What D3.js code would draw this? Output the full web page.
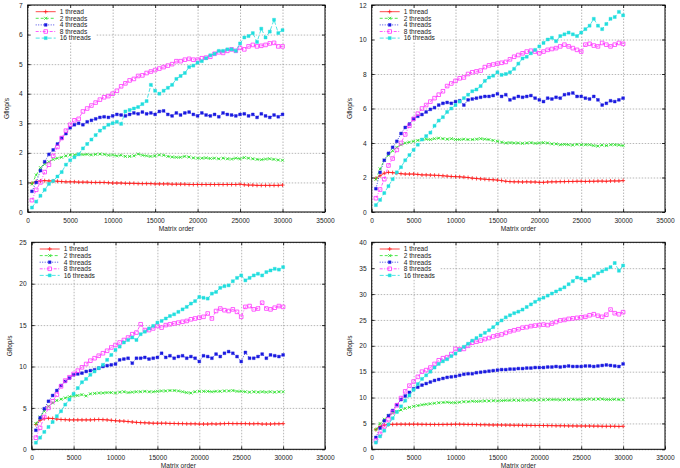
<!DOCTYPE html>
<html>
<head>
<meta charset="utf-8">
<script src="https://cdn.jsdelivr.net/npm/d3@7/dist/d3.min.js"></script>
<style>
  body { margin: 0; background: #fff; }
  svg { display: block; font-family: "Liberation Sans", Arial, sans-serif; }
</style>
</head>
<body>
<div id="chart"></div>
<script>
var W = 680;
var H = 468;

// matrix sizes (x values, shared by every series)
var matrixOrder = [500,1000,1500,2000,2500,3000,3500,4000,4500,5000,
  5500,6000,6500,7000,7500,8000,8500,9000,9500,10000,
  10500,11000,11500,12000,12500,13000,13500,14000,14500,15000,
  15500,16000,16500,17000,17500,18000,18500,19000,19500,20000,
  20500,21000,21500,22000,22500,23000,23500,24000,24500,25000,
  25500,26000,26500,27000,27500,28000,28500,29000,29500,30000];

var xTicks = [0,5000,10000,15000,20000,25000,30000,35000];
var seriesNames = ["1 thread","2 threads","4 threads","8 threads","16 threads"];

var p1Ticks = [0,1,2,3,4,5,6,7];
var p2Ticks = [0,2,4,6,8,10,12];
var p3Ticks = [0,5,10,15,20,25];
var p4Ticks = [0,5,10,15,20,25,30,35,40];

// panel 1 (top left)
var p1_t1 = [0.97,1.03,1.05,1.06,1.05,1.05,1.04,1.03,1.02,1.02, 1.02,1.01,1.01,1.01,1.00,1.00,1.00,1.00,0.99,0.98, 0.98,0.98,0.97,0.97,0.97,0.96,0.96,0.96,0.96,0.95, 0.95,0.95,0.95,0.94,0.94,0.94,0.94,0.93,0.93,0.93, 0.93,0.93,0.93,0.93,0.93,0.93,0.93,0.93,0.93,0.94, 0.92,0.91,0.91,0.90,0.90,0.90,0.90,0.90,0.90,0.91];
var p1_t2 = [0.95,1.25,1.5,1.62,1.7,1.78,1.82,1.85,1.9,1.93, 1.93,1.96,1.94,1.95,1.93,1.95,1.96,1.95,1.92,1.93, 1.90,1.92,1.88,1.88,1.90,1.96,1.92,1.90,1.88,1.90, 1.93,1.92,1.88,1.86,1.85,1.85,1.88,1.86,1.83,1.82, 1.82,1.83,1.81,1.82,1.80,1.82,1.80,1.79,1.82,1.80, 1.84,1.82,1.80,1.78,1.77,1.79,1.80,1.78,1.76,1.75];
var p1_t4 = [0.7,1.0,1.4,1.7,1.95,2.1,2.3,2.5,2.65,2.85, 2.95,3.0,2.95,3.05,3.1,3.15,3.2,3.22,3.2,3.25, 3.3,3.28,3.25,3.3,3.35,3.32,3.38,3.32,3.35,3.3, 3.4,3.42,3.3,3.25,3.35,3.28,3.35,3.38,3.3,3.25, 3.35,3.28,3.25,3.3,3.22,3.35,3.3,3.28,3.25,3.3, 3.32,3.25,3.3,3.2,3.32,3.25,3.2,3.28,3.22,3.3];
var p1_t8 = [0.4,0.75,1.0,1.35,1.6,1.9,2.2,2.5,2.75,2.95, 3.1,3.15,3.4,3.5,3.6,3.7,3.8,3.88,3.92,4.0, 4.1,4.25,4.35,4.45,4.5,4.6,4.62,4.7,4.75,4.8, 4.85,4.9,4.95,5.0,5.1,5.1,5.15,5.18,5.15,5.15, 5.2,5.22,5.25,5.35,5.4,5.38,5.45,5.5,5.45,5.55, 5.5,5.6,5.65,5.6,5.62,5.65,5.7,5.72,5.6,5.6];
var p1_t16 = [0.15,0.35,0.55,0.75,0.95,1.05,1.2,1.35,1.6,1.75, 1.85,1.95,2.15,2.3,2.45,2.6,2.75,2.85,2.95,3.0, 3.05,2.98,3.4,3.45,3.5,3.55,3.65,3.75,4.3,4.1, 4.0,4.1,4.2,4.3,4.5,4.6,4.7,4.9,4.95,5.05, 5.1,5.2,5.3,5.35,5.45,5.45,5.5,5.5,5.45,5.7, 5.9,5.95,6.05,5.75,6.2,5.9,6.1,6.5,6.05,6.15];

// panel 2 (top right)
var p2_t1 = [1.95,2.1,2.25,2.3,2.28,2.25,2.22,2.2,2.2,2.2, 2.18,2.15,2.15,2.14,2.13,2.12,2.1,2.08,2.06,2.05, 2.04,2.02,2.0,1.96,1.94,1.92,1.9,1.88,1.87,1.85, 1.82,1.78,1.76,1.75,1.75,1.74,1.75,1.74,1.74,1.72, 1.72,1.74,1.75,1.75,1.76,1.76,1.77,1.77,1.78,1.78, 1.77,1.78,1.78,1.79,1.79,1.78,1.8,1.8,1.8,1.82];
var p2_t2 = [1.9,2.5,3.0,3.3,3.55,3.75,3.9,4.0,4.05,4.1, 4.15,4.2,4.22,4.2,4.25,4.28,4.25,4.22,4.25,4.2, 4.2,4.22,4.2,4.2,4.22,4.25,4.22,4.2,4.15,4.1, 4.05,4.0,4.02,4.0,4.0,3.98,4.0,4.02,3.98,4.0, 4.02,4.0,3.95,3.95,3.9,3.92,3.9,3.88,3.92,3.9, 3.9,3.9,3.85,3.82,3.88,3.85,3.9,3.9,3.88,3.85];
var p2_t4 = [1.35,2.3,3.0,3.4,3.75,4.1,4.55,4.9,5.1,5.4, 5.55,5.65,5.8,5.95,6.05,6.2,6.3,6.35,6.3,6.4, 6.45,6.2,6.5,6.55,6.6,6.65,6.7,6.7,6.75,6.85, 6.7,6.8,6.5,6.6,6.7,6.65,6.7,6.75,6.6,6.5, 6.4,6.6,6.55,6.65,6.6,6.8,6.85,6.9,6.7,6.7, 6.6,6.55,6.7,6.5,6.2,6.3,6.45,6.4,6.5,6.6];
var p2_t8 = [0.8,1.3,1.9,2.7,3.1,3.6,4.0,4.5,5.0,5.4, 5.7,6.0,6.2,6.4,6.6,6.8,7.0,7.3,7.45,7.6, 7.75,7.8,8.0,8.1,8.15,8.2,8.4,8.5,8.55,8.6, 8.65,8.7,8.85,9.0,9.1,9.2,9.3,9.35,9.3,9.2, 9.3,9.4,9.45,9.5,9.6,9.7,9.6,9.5,9.4,9.3, 9.7,9.75,9.65,9.6,9.8,9.7,9.6,9.7,9.8,9.75];
var p2_t16 = [0.4,0.7,1.1,1.5,1.9,2.3,2.6,3.0,3.3,3.6, 3.9,4.2,4.4,4.6,5.0,5.3,5.5,5.8,6.0,6.2, 6.4,6.6,6.8,7.0,7.1,7.3,7.6,7.8,7.9,8.1, 7.95,8.0,8.1,8.3,8.6,8.9,9.0,9.2,9.4,9.6, 9.8,10.0,10.1,9.9,10.2,10.3,10.4,10.3,10.2,10.4, 10.6,10.8,11.2,10.8,10.6,10.9,11.2,11.3,11.6,11.4];

// panel 3 (bottom left)
var p3_t1 = [3.0,3.5,3.7,3.75,3.72,3.65,3.6,3.58,3.55,3.55, 3.55,3.55,3.55,3.55,3.58,3.6,3.58,3.55,3.5,3.45, 3.42,3.4,3.35,3.3,3.25,3.22,3.2,3.18,3.15,3.15, 3.15,3.15,3.12,3.12,3.1,3.1,3.08,3.08,3.08,3.05, 3.05,3.05,3.08,3.05,3.08,3.1,3.12,3.1,3.1,3.1, 3.1,3.08,3.08,3.1,3.05,3.05,3.05,3.08,3.08,3.1];
var p3_t2 = [3.1,3.9,4.6,5.2,5.6,5.9,6.05,6.2,6.35,6.45, 6.5,6.6,6.45,6.7,6.75,6.8,6.8,6.85,6.85,6.8, 6.9,6.95,6.85,6.9,6.95,6.95,7.0,6.95,6.95,7.0, 7.05,7.05,7.1,7.1,7.05,6.95,6.85,6.8,6.95,7.0, 7.0,7.0,6.95,7.0,7.0,7.05,7.05,7.1,7.0,7.0, 6.95,6.9,6.95,6.9,6.95,6.9,6.95,6.9,6.95,6.95];
var p3_t4 = [2.3,3.8,4.9,5.8,6.5,7.1,7.7,8.2,8.6,9.0, 9.1,9.2,9.4,9.5,9.6,9.8,10.0,10.1,10.2,10.3, 10.8,10.9,11.0,10.4,11.0,11.0,11.1,10.9,11.0,11.1, 11.6,11.1,11.3,11.0,11.2,11.3,11.0,11.2,11.0,10.6, 11.3,11.2,11.0,11.5,11.2,11.6,11.8,11.6,11.2,10.6, 11.7,11.0,11.0,11.2,11.5,11.0,11.4,11.3,11.2,11.4];
var p3_t8 = [1.4,2.6,3.9,5.0,5.8,6.6,7.6,8.3,8.7,9.1, 9.5,9.9,10.3,10.7,11.0,11.3,11.6,11.9,12.3,12.6, 12.9,13.2,13.5,13.9,14.1,15.1,14.4,14.4,14.6,14.9, 14.7,15.0,15.1,15.2,15.3,15.4,15.5,15.7,15.8,15.9, 16.0,16.4,15.8,16.7,17.0,16.8,16.7,16.9,16.6,16.0, 17.2,17.3,16.9,17.0,17.7,17.0,16.9,17.1,17.3,17.2];
var p3_t16 = [0.8,1.4,2.1,2.7,3.3,4.0,4.6,5.4,6.0,6.7, 7.4,8.1,8.5,9.0,9.4,9.8,10.2,10.8,11.4,12.0, 12.4,12.9,13.2,13.5,13.2,13.9,14.2,14.6,14.9,15.3, 15.5,15.8,16.1,16.3,16.6,16.9,17.2,17.6,17.9,18.4, 18.3,18.2,18.8,19.0,19.5,19.7,19.8,20.3,20.7,21.0, 20.4,20.7,21.0,21.2,21.0,21.4,21.6,21.8,21.7,22.0];

// panel 4 (bottom right)
var p4_t1 = [3.8,4.4,4.7,4.8,4.82,4.85,4.85,4.85,4.85,4.85, 4.85,4.82,4.82,4.8,4.8,4.8,4.8,4.82,4.82,4.85, 4.85,4.82,4.8,4.8,4.78,4.75,4.75,4.72,4.7,4.7, 4.7,4.68,4.68,4.65,4.65,4.65,4.62,4.62,4.6,4.6, 4.6,4.58,4.58,4.55,4.55,4.55,4.52,4.52,4.5,4.5, 4.5,4.5,4.48,4.48,4.45,4.45,4.45,4.45,4.42,4.45];
var p4_t2 = [3.8,5.0,5.8,6.5,7.0,7.3,7.6,7.9,8.1,8.3, 8.45,8.6,8.7,8.8,8.9,9.0,9.05,9.1,9.0,9.0, 9.1,9.2,9.2,9.3,9.25,9.3,9.35,9.35,9.4,9.35, 9.4,9.45,9.45,9.5,9.45,9.5,9.5,9.55,9.5,9.55, 9.55,9.6,9.6,9.6,9.55,9.6,9.6,9.65,9.6,9.6, 9.65,9.7,9.65,9.7,9.7,9.6,9.6,9.65,9.6,9.6];
var p4_t4 = [2.3,4.1,5.5,6.5,7.5,8.6,9.6,10.3,11.0,11.7, 12.0,12.4,12.7,13.0,13.3,13.5,13.7,13.9,14.0,14.1, 14.3,14.5,14.6,14.6,14.8,14.9,15.0,15.1,15.2,15.3, 15.4,15.4,15.5,15.5,15.6,15.6,15.7,15.7,15.8,15.8, 15.8,15.9,15.9,16.0,15.9,16.0,16.1,16.0,16.0,16.0, 16.1,16.1,16.0,16.1,16.2,16.3,16.2,16.1,16.0,16.5];
var p4_t8 = [1.7,3.0,4.4,5.8,7.2,8.5,9.9,11.2,12.3,13.1, 14.0,15.0,15.3,15.8,16.5,17.2,17.6,17.8,18.4,19.4, 19.3,19.4,20.0,20.6,20.8,21.0,21.3,21.5,21.8,22.0, 22.2,22.5,22.8,23.0,23.2,23.5,23.6,23.8,23.9,24.0, 24.1,24.0,24.3,24.6,24.9,25.0,25.2,25.3,25.4,25.5, 25.6,25.9,26.1,25.8,25.6,26.0,27.0,26.3,26.1,26.5];
var p4_t16 = [1.3,2.5,3.6,4.8,6.0,7.2,8.3,9.4,10.4,11.5, 12.6,13.6,14.3,15.0,15.8,16.5,17.0,17.4,18.0,18.5, 19.2,19.8,20.4,21.0,21.5,22.0,22.5,23.0,23.6,24.3, 24.9,25.5,25.9,26.3,26.6,27.0,27.5,28.0,28.5,29.0, 29.3,29.7,30.1,30.5,30.9,31.3,31.9,32.5,33.2,33.0, 32.6,33.0,33.5,34.0,34.4,34.8,35.2,36.0,34.5,35.5];

// panel frames (plot area in page pixels)
var panels = [
  {left: 27.7, right: 325, top: 5, bottom: 212, ymax: 7, ticks: p1Ticks, ylabX: 7,
   data: [p1_t1, p1_t2, p1_t4, p1_t8, p1_t16]},
  {left: 371.7, right: 665, top: 5, bottom: 212, ymax: 12, ticks: p2Ticks, ylabX: 350,
   data: [p2_t1, p2_t2, p2_t4, p2_t8, p2_t16]},
  {left: 31.7, right: 325, top: 242.3, bottom: 449.3, ymax: 25, ticks: p3Ticks, ylabX: 10,
   data: [p3_t1, p3_t2, p3_t4, p3_t8, p3_t16]},
  {left: 371.7, right: 665, top: 242.3, bottom: 449.3, ymax: 40, ticks: p4Ticks, ylabX: 350,
   data: [p4_t1, p4_t2, p4_t4, p4_t8, p4_t16]}
];

// gnuplot-like line types
var styles = [
  {color: "#ff1a1a", dash: null,      mark: "M-2,0H2M0,-2V2",                   fill: false},
  {color: "#22e022", dash: "3,2",     mark: "M-1.5,-1.5L1.5,1.5M-1.5,1.5L1.5,-1.5", fill: false},
  {color: "#1a1ae0", dash: "1,1.5",   mark: "M-1.4,-1.4h2.8v2.8h-2.8z",         fill: true},
  {color: "#ff33ff", dash: "3,1.5,1,1.5", mark: "M-1.8,-1.8h3.6v3.6h-3.6z",     fill: false},
  {color: "#22dede", dash: "4,2",     mark: "M-1.5,-1.5h3v3h-3z",               fill: true}
];

var fontSize = 6.6;
var fmt = d3.format("d");

var svg = d3.select("#chart").append("svg")
  .attr("width", W)
  .attr("height", H);

panels.forEach(function(p) {
  var g = svg.append("g");

  var xScale = d3.scaleLinear().domain([0, 35000]).range([p.left, p.right]);
  var yScale = d3.scaleLinear().domain([0, p.ymax]).range([p.bottom, p.top]);

  // grid
  var gridX = g.append("g")
    .attr("transform", "translate(0," + p.bottom + ")")
    .call(d3.axisBottom(xScale).tickValues(xTicks).tickSize(-(p.bottom - p.top)).tickFormat(""));
  var gridY = g.append("g")
    .attr("transform", "translate(" + p.left + ",0)")
    .call(d3.axisLeft(yScale).tickValues(p.ticks).tickSize(-(p.right - p.left)).tickFormat(""));
  [gridX, gridY].forEach(function(gr) {
    gr.select(".domain").remove();
    gr.selectAll("line")
      .attr("stroke", "#9a9a9a")
      .attr("stroke-width", 0.7)
      .attr("stroke-dasharray", "1.5,1.5");
  });

  // legend box (opaque, hides the grid behind it)
  var legend = g.append("g");
  var legendBg = legend.append("rect").attr("fill", "#fff");

  // series
  var line = d3.line()
    .x(function(d, i) { return xScale(matrixOrder[i]); })
    .y(function(d) { return yScale(d); });

  p.data.forEach(function(values, si) {
    var st = styles[si];
    var sg = g.append("g");
    sg.append("path")
      .attr("d", line(values))
      .attr("fill", "none")
      .attr("stroke", st.color)
      .attr("stroke-width", 0.8)
      .attr("stroke-dasharray", st.dash);
    sg.selectAll(".pt")
      .data(values)
      .enter()
      .append("path")
      .attr("class", "pt")
      .attr("transform", function(d, i) { return "translate(" + xScale(matrixOrder[i]) + "," + yScale(d) + ")"; })
      .attr("d", st.mark)
      .attr("fill", st.fill ? st.color : "none")
      .attr("stroke", st.color)
      .attr("stroke-width", st.fill ? 0.4 : 0.8);
  });

  // legend entries
  var maxW = 0;
  seriesNames.forEach(function(name, si) {
    var st = styles[si];
    var ly = p.top + 6.7 + si * 6.6;
    legend.append("line")
      .attr("x1", p.left + 8).attr("x2", p.left + 28)
      .attr("y1", ly).attr("y2", ly)
      .attr("stroke", st.color)
      .attr("stroke-width", 0.8)
      .attr("stroke-dasharray", st.dash);
    legend.append("path")
      .attr("transform", "translate(" + (p.left + 18) + "," + ly + ")")
      .attr("d", st.mark)
      .attr("fill", st.fill ? st.color : "none")
      .attr("stroke", st.color)
      .attr("stroke-width", st.fill ? 0.4 : 0.8);
    var t = legend.append("text")
      .attr("x", p.left + 32)
      .attr("y", ly)
      .attr("dy", "0.35em")
      .attr("font-size", fontSize)
      .attr("fill", "#222")
      .text(name);
    maxW = Math.max(maxW, t.node().getComputedTextLength());
  });
  legendBg
    .attr("x", p.left + 1)
    .attr("y", p.top + 1)
    .attr("width", 32 + maxW + 4)
    .attr("height", 6.6 * 5 + 3);

  // border
  g.append("rect")
    .attr("x", p.left).attr("y", p.top)
    .attr("width", p.right - p.left).attr("height", p.bottom - p.top)
    .attr("fill", "none")
    .attr("stroke", "#000")
    .attr("stroke-width", 1);

  // axes with inward (mirrored) ticks
  var xAxis = g.append("g")
    .attr("transform", "translate(0," + p.bottom + ")")
    .call(d3.axisBottom(xScale).tickValues(xTicks).tickFormat(fmt).tickSizeInner(-3).tickSizeOuter(0).tickPadding(6));
  var xTop = g.append("g")
    .attr("transform", "translate(0," + p.top + ")")
    .call(d3.axisTop(xScale).tickValues(xTicks).tickSizeInner(-3).tickSizeOuter(0).tickFormat(""));
  var yAxis = g.append("g")
    .attr("transform", "translate(" + p.left + ",0)")
    .call(d3.axisLeft(yScale).tickValues(p.ticks).tickFormat(fmt).tickSizeInner(-3).tickSizeOuter(0).tickPadding(5));
  var yRight = g.append("g")
    .attr("transform", "translate(" + p.right + ",0)")
    .call(d3.axisRight(yScale).tickValues(p.ticks).tickSizeInner(-3).tickSizeOuter(0).tickFormat(""));
  [xAxis, xTop, yAxis, yRight].forEach(function(a) {
    a.select(".domain").remove();
    a.selectAll("line").attr("stroke", "#000").attr("stroke-width", 0.8);
    a.selectAll("text")
      .attr("font-size", fontSize)
      .attr("font-family", "Liberation Sans, Arial, sans-serif")
      .attr("fill", "#222");
  });

  // axis titles
  g.append("text")
    .attr("x", (p.left + p.right) / 2)
    .attr("y", p.bottom + 19)
    .attr("text-anchor", "middle")
    .attr("font-size", fontSize)
    .attr("fill", "#222")
    .text("Matrix order");
  g.append("text")
    .attr("transform", "translate(" + p.ylabX + "," + ((p.top + p.bottom) / 2) + ") rotate(-90)")
    .attr("text-anchor", "middle")
    .attr("dy", "0.35em")
    .attr("font-size", fontSize)
    .attr("fill", "#222")
    .text("Gflop/s");
});
</script>
</body>
</html>
